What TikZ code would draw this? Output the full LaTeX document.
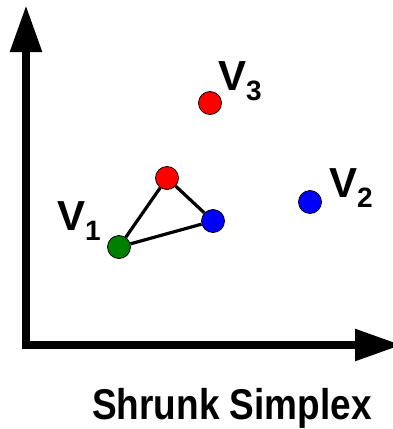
\documentclass[tikz,border=0pt]{standalone}
\usepackage{fontspec}
\setmainfont{Liberation Sans}
\usetikzlibrary{arrows.meta}
\newcommand{\Vlab}[1]{{\fontsize{42}{42}\selectfont\bfseries V}\raisebox{-10pt}{\fontsize{28}{28}\selectfont\bfseries #1}}
\tikzset{
  pt/.style={circle, draw=black, line width=0.8pt, minimum size=23pt, inner sep=0pt},
  axis/.style={line width=8.5pt, line join=miter, {Triangle[length=47pt,width=30pt]}-{Triangle[length=47pt,width=30pt]}},
  edge/.style={line width=3.2pt},
  lab/.style={anchor=base west, inner sep=0pt}
}
\begin{document}
\begin{tikzpicture}[x=1pt,y=-1pt]
\useasboundingbox (0,0) rectangle (392,429);
\coordinate (ytip) at (26,5);
\coordinate (orig) at (26,345);
\coordinate (xtip) at (402,345);
\draw[axis] (ytip) -- (orig) -- (xtip);
\node[pt, fill=red] (v3) at (210,103) {};
\node[pt, fill=blue] (v2) at (310,202) {};
\node[pt, fill=red] (a) at (167,178) {};
\node[pt, fill=blue] (b) at (213,221) {};
\node[pt, fill={rgb,255:red,0;green,128;blue,0}] (c) at (119,247) {};
\draw[edge] (a) -- (b) -- (c) -- (a);
\node[lab] (l3) at (218,90) {\Vlab{3}};
\node[lab] (l2) at (329,197) {\Vlab{2}};
\node[lab] (l1) at (57,230) {\Vlab{1}};
\node[lab, xscale=0.86] (title) at (92,419) {\fontsize{43}{43}\selectfont\bfseries Shrunk Simplex};
\end{tikzpicture}
\end{document}
